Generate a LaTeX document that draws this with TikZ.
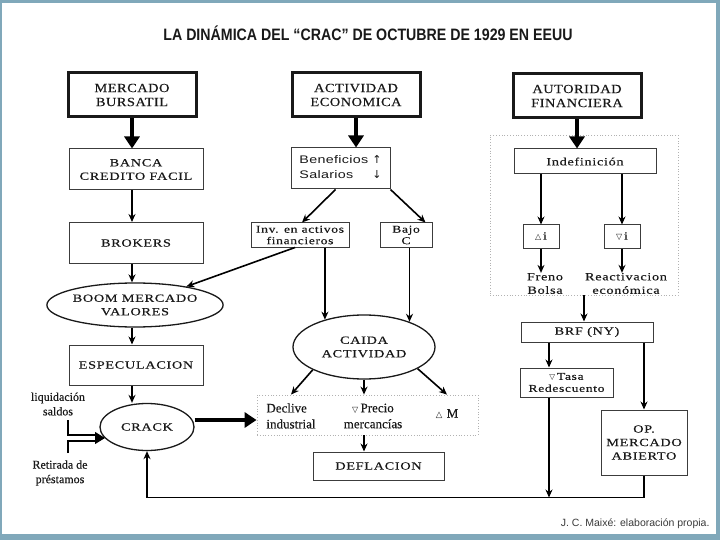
\documentclass[tikz,border=0pt]{standalone}
\usepackage{fontspec}
\setmainfont{Liberation Serif}
\newfontfamily\boxfont{Liberation Serif}[FakeStretch=1.3,LetterSpace=6,FakeBold=0.3]
\newfontfamily\topfont{Liberation Serif}[FakeStretch=1.15,LetterSpace=4,FakeBold=0.3]
\newfontfamily\narfont{Liberation Serif}[FakeBold=0.3]
\newfontfamily\sansw{Liberation Sans}[FakeStretch=1.3,LetterSpace=3]
\newfontfamily\titlefont{Liberation Sans}[FakeStretch=0.86]
\newfontfamily\footfont{Liberation Sans}
\newfontfamily\symf{DejaVu Sans}
\usetikzlibrary{arrows.meta,shapes.geometric}
\definecolor{frame}{RGB}{128,168,186}
\definecolor{ink}{RGB}{25,25,25}
\begin{document}
\begin{tikzpicture}[x=1pt,y=-1pt,
 every node/.style={text=ink},
 topbox/.style={draw=ink, line width=3pt, minimum width=128pt, minimum height=44pt, align=center, font=\topfont\fontsize{12.5}{14}\selectfont, inner sep=0pt},
 bx/.style={draw=ink!85, line width=1pt, align=center, inner sep=0pt, font=\boxfont\fontsize{11}{13.5}\selectfont},
 ell/.style={ellipse, draw=ink, line width=1.3pt, align=center, inner sep=0pt, font=\boxfont\fontsize{11}{13.5}\selectfont},
 dotbox/.style={draw=gray!60, dotted, line width=0.8pt, inner sep=0pt},
 plain/.style={align=center, inner sep=0pt, font=\boxfont\fontsize{11}{13.5}\selectfont},
 arr/.style={line width=1.6pt, -{Stealth[length=8pt,width=7pt]}},
 bigarr/.style={line width=4pt, -{Triangle[length=12pt,width=15pt]}},
 ln/.style={line width=1.6pt}
]
\fill[frame] (0,0) rectangle (720,540);
\fill[white] (2,3) rectangle (716,534);
\useasboundingbox (0,0) rectangle (720,540);

\node[font=\titlefont\bfseries\fontsize{16.5}{19}\selectfont] (title) at (368,33) {LA DINÁMICA DEL “CRAC” DE OCTUBRE DE 1929 EN EEUU};

\node[topbox] (mb) at (132,95) {MERCADO\\BURSATIL};
\node[topbox] (ae) at (356,95) {ACTIVIDAD\\ECONOMICA};
\node[topbox] (af) at (577,96) {AUTORIDAD\\FINANCIERA};

% column 1
\node[bx, minimum width=134pt, minimum height=41pt] (banca) at (136,169.5) {BANCA\\CREDITO FACIL};
\node[bx, minimum width=134pt, minimum height=41pt] (brok) at (136,243) {BROKERS};
\node[ell, minimum width=154pt, minimum height=44pt] (boom) at (135,305) {BOOM MERCADO\\VALORES};
\node[bx, minimum width=134pt, minimum height=40pt] (esp) at (136,365) {ESPECULACION};
\node[ell, minimum width=94pt, minimum height=47pt] (crack) at (147,427) {CRACK};
\node[plain, font=\narfont\fontsize{12}{14.5}\selectfont] (liq) at (58,404) {liquidación\\saldos};
\node[plain, font=\narfont\fontsize{12}{14.5}\selectfont] (ret) at (60,473) {Retirada de\\préstamos};

% column 2
\node[bx, font=\sansw\fontsize{11}{15}\selectfont, minimum width=99pt, minimum height=41pt] (ben) at (340.5,168.5)
  {\begin{tabular}{@{}l@{\hspace{4pt}}l@{}}Beneficios&{\symf ↑}\\Salarios&{\symf ↓}\end{tabular}};
\node[bx, font=\boxfont\fontsize{10.5}{11.5}\selectfont, minimum width=98pt, minimum height=24pt] (inv) at (300,235) {Inv. en activos\\financieros};
\node[bx, font=\boxfont\fontsize{10.5}{11.5}\selectfont, minimum width=52pt, minimum height=24pt] (bajo) at (406,235) {Bajo\\C};
\node[ell, minimum width=142pt, minimum height=64pt] (caida) at (364,347) {CAIDA\\ACTIVIDAD};
\node[dotbox, minimum width=221pt, minimum height=40pt] (dots) at (367.5,415) {};
\node[plain, font=\narfont\fontsize{13}{16}\selectfont, align=left] (dec) at (291,416) {Declive\\industrial};
\node[plain, font=\narfont\fontsize{13}{16}\selectfont] (pre) at (373,416) {{\symf\fontsize{8}{8}\selectfont ▽}\,Precio\\mercancías};
\node[plain, font=\narfont\fontsize{13}{16}\selectfont] (dm) at (447,414) {{\symf\fontsize{8.5}{8}\selectfont △}\,\,M};
\node[bx, minimum width=131pt, minimum height=28pt] (defl) at (378.5,466) {DEFLACION};

% column 3
\node[dotbox, minimum width=188pt, minimum height=160pt] (fin) at (584,215) {};
\node[bx, minimum width=142pt, minimum height=25pt] (indef) at (585,161.5) {Indefinición};
\node[bx, minimum width=36pt, minimum height=23pt] (inc) at (541,236.5) {{\symf\fontsize{8}{8}\selectfont △}\,i};
\node[bx, minimum width=36pt, minimum height=23pt] (dec2) at (622,236.5) {{\symf\fontsize{8}{8}\selectfont ▽}\,i};
\node[plain] (freno) at (545,283.5) {Freno\\Bolsa};
\node[plain] (reac) at (626,283.5) {Reactivacion\\económica};
\node[bx, minimum width=132pt, minimum height=20pt] (brf) at (587,332) {BRF (NY)};
\node[bx, minimum width=93pt, minimum height=29pt, font=\boxfont\fontsize{10.5}{12}\selectfont] (tasa) at (566.5,382.5) {{\symf\fontsize{7.5}{8}\selectfont ▽}\,Tasa\\Redescuento};
\node[bx, minimum width=86pt, minimum height=65pt] (op) at (644,442.5) {OP.\\MERCADO\\ABIERTO};

\node[anchor=east, font=\footfont\fontsize{10.5}{12}\selectfont, text=ink!85] (foot) at (713,524) {J. C. Maixé: elaboración propia.};

% connectors
\draw[bigarr] (mb.south) -- (mb.south |- banca.north);
\draw[bigarr] (ae.south) -- (ae.south |- ben.north);
\draw[bigarr] (af.south) -- (af.south |- indef.north);

\draw[arr] (banca.south -| mb.south) -- (brok.north -| mb.south);
\draw[arr] (brok.south -| mb.south) -- (boom.north -| mb.south);
\draw[arr] (boom.south -| mb.south) -- (esp.north -| mb.south);
\draw[arr] (esp.south -| mb.south) -- (crack.north -| mb.south);

\coordinate (q1) at (68,420);
\coordinate (q2) at (68,453);
\coordinate (d1) at (97,435);
\coordinate (d2) at (97,441);
\coordinate (dh) at (105,438);
\draw[line width=1.5pt] (q1) |- (d1);
\draw[line width=1.5pt] (q2) |- (d2);
\draw[line width=1pt, -{Triangle[length=10pt,width=12pt]}] ([xshift=-6pt]dh) -- (dh);

\draw[bigarr] ([yshift=7pt]crack.east) -- ([yshift=7pt]crack.east -| dots.west);

\draw[arr] ([xshift=-5pt]ben.south) -- ([xshift=2pt]inv.north);
\draw[arr] (ben.south east) -- ([xshift=-7pt]bajo.north east);
\draw[arr] ([xshift=-5pt]inv.south) -- (boom);
\draw[arr] (inv.south -| caida.145) -- (caida.145);
\draw[arr] (bajo.south -| caida.29) -- (caida.29);
\draw[arr] (caida.204) -- (dots.north -| dec.north);
\draw[arr] (caida.south) -- (caida.south |- dots.north);
\draw[arr] (caida.-22) -- (dots.north -| dm.north);
\draw[arr] (caida.south |- dots.south) -- (caida.south |- defl.north);

\draw[arr] (indef.south -| inc.north) -- (inc.north);
\draw[arr] (indef.south -| dec2.north) -- (dec2.north);
\draw[arr] (inc.south) -- (inc.south |- freno.north);
\draw[arr] (dec2.south) -- (dec2.south |- reac.north);
\draw[arr] (fin.south) -- (fin.south |- brf.north);
\coordinate (tx) at ([xshift=-17.5pt]tasa.north);
\draw[arr] (brf.south -| tx) -- (tx);
\draw[arr] (brf.south -| op.north) -- (op.north);
\coordinate (lr) at ([yshift=-22pt]op.south);
\draw[arr] (op.south) -- (lr) -| (crack.south);
\draw[arr] (tasa.south -| tx) -- (tx |- lr);
\end{tikzpicture}
\end{document}
